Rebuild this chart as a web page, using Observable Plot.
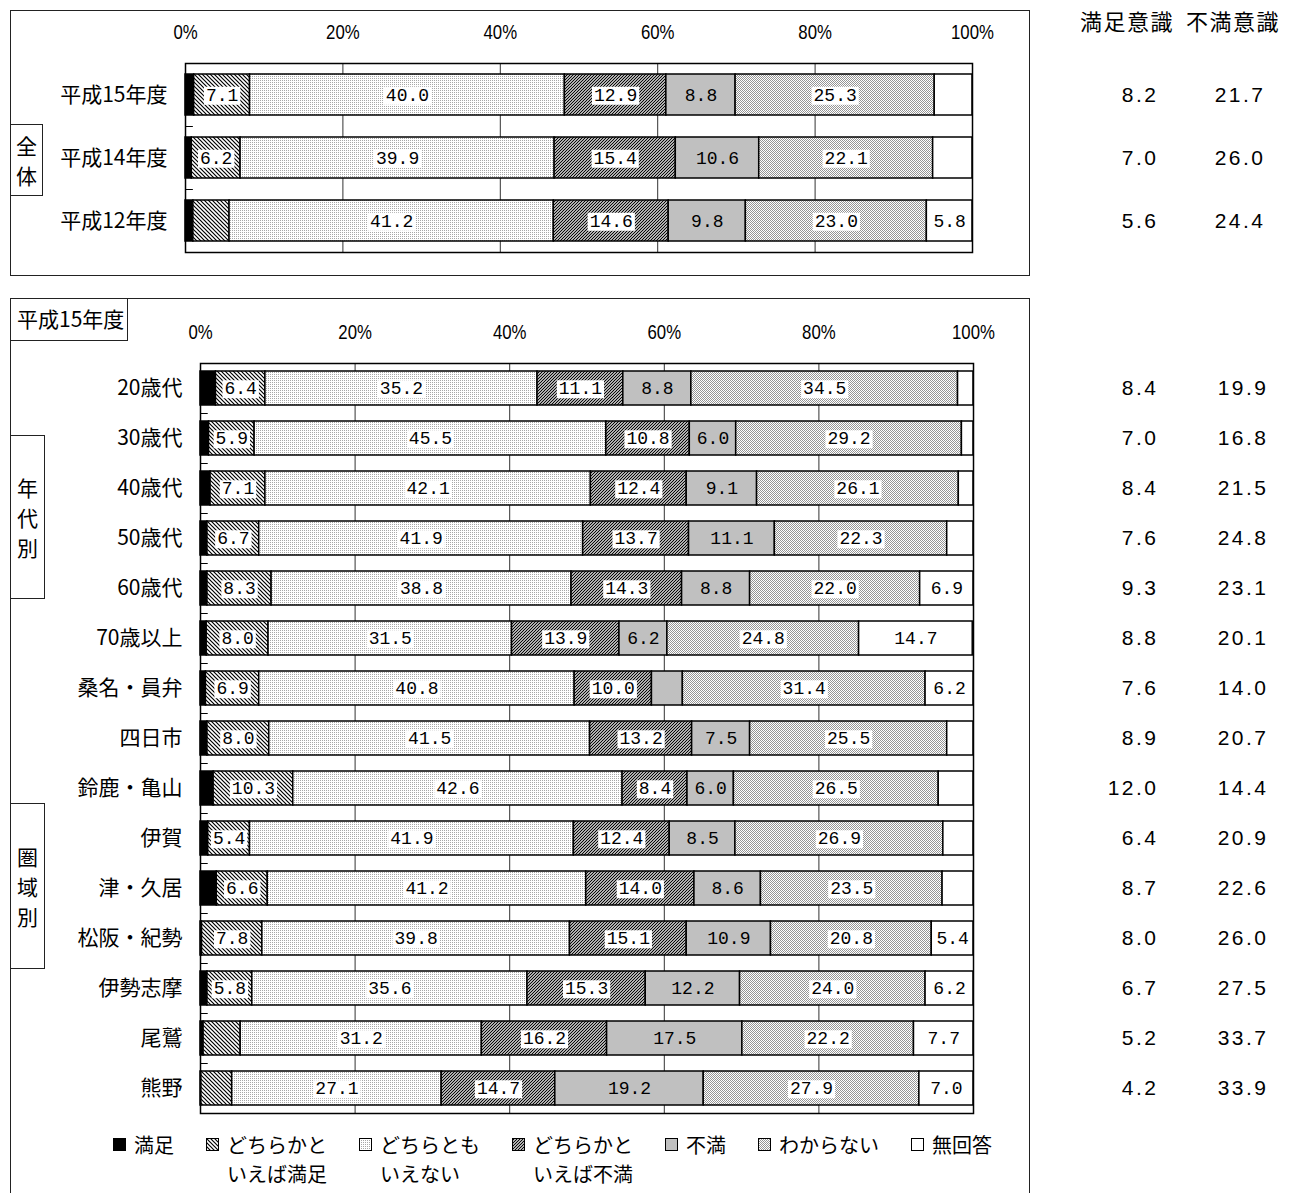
<!DOCTYPE html>
<html>
<head>
<meta charset="utf-8">
<script src="https://cdn.jsdelivr.net/npm/d3@7"></script>
<script src="https://cdn.jsdelivr.net/npm/@observablehq/plot@0.6"></script>
<style>
  body { margin: 0; background: #fff; }
  #page { position: relative; width: 1295px; height: 1193px; overflow: hidden;
          font-family: "Noto Sans CJK JP", "Noto Sans", sans-serif; color: #000; }
  .plot { position: absolute; left: 0; }
  .box { position: absolute; border: 1.5px solid #222; box-sizing: border-box; z-index: 5; }
  .vlabel { display: flex; flex-direction: column; align-items: center; justify-content: center;
            font-size: 21px; line-height: 30px; background: #fff; }
  .hdr { position: absolute; font-size: 22px; letter-spacing: 1.5px; z-index: 6; }
  #legend { position: absolute; left: 113px; top: 1130px; display: flex; gap: 32px; z-index: 6;
            font-size: 20px; line-height: 29px; }
  .item { display: flex; align-items: flex-start; }
  .sw { width: 13px; height: 13px; margin-top: 8px; margin-right: 8px; flex: none; }
</style>
</head>
<body>
<svg width="0" height="0" style="position:absolute">
  <defs>
    <pattern id="pSat2" width="4" height="4" patternUnits="userSpaceOnUse">
      <rect width="4" height="4" fill="#fff"/>
      <path d="M-1,-1 L5,5 M-1,3 L1,5 M3,-1 L5,1" stroke="#000" stroke-width="1.2"/>
    </pattern>
    <pattern id="pDis2" width="3" height="3" patternUnits="userSpaceOnUse">
      <rect width="3" height="3" fill="#fff"/>
      <path d="M-1,4 L4,-1 M-1,1 L1,-1 M2,4 L4,2" stroke="#000" stroke-width="1.2"/>
    </pattern>
    <pattern id="pNeutral" width="2" height="2" patternUnits="userSpaceOnUse">
      <rect width="2" height="2" fill="#fff"/>
      <rect width="1" height="1" fill="#a8a8a8" shape-rendering="crispEdges"/>
    </pattern>
    <pattern id="pUnknown" width="2" height="2" patternUnits="userSpaceOnUse">
      <rect width="2" height="2" fill="#fff"/>
      <rect width="1" height="1" fill="#959595" shape-rendering="crispEdges"/>
      <rect x="1" y="1" width="1" height="1" fill="#959595" shape-rendering="crispEdges"/>
    </pattern>
  </defs>
</svg>
<div id="page"></div>
<script>
// ---------------- data ----------------
const responses = ["満足", "どちらかといえば満足", "どちらともいえない", "どちらかといえば不満", "不満", "わからない", "無回答"];
const legendLabels = [["満足"], ["どちらかと", "いえば満足"], ["どちらとも", "いえない"], ["どちらかと", "いえば不満"], ["不満"], ["わからない"], ["無回答"]];
const xTicks = [0, 20, 40, 60, 80, 100];
const gridTicks = [20, 40, 60, 80];
const sideHeaders = ["満足意識", "不満意識"];

// 全体
const categoriesTop = ["平成15年度", "平成14年度", "平成12年度"];
const satisfiedTop          = [1.1, 0.8, 1.0];
const ratherSatisfiedTop    = [7.1, 6.2, 4.6];
const neutralTop            = [40.0, 39.9, 41.2];
const ratherDissatisfiedTop = [12.9, 15.4, 14.6];
const dissatisfiedTop       = [8.8, 10.6, 9.8];
const unknownTop            = [25.3, 22.1, 23.0];
const noAnswerTop           = [4.8, 5.0, 5.8];
const satSumTop             = [8.2, 7.0, 5.6];
const dissatSumTop          = [21.7, 26.0, 24.4];

// 平成15年度 年代別・圏域別
const categoriesBottom = ["20歳代", "30歳代", "40歳代", "50歳代", "60歳代", "70歳以上", "桑名・員弁", "四日市", "鈴鹿・亀山", "伊賀", "津・久居", "松阪・紀勢", "伊勢志摩", "尾鷲", "熊野"];
const satisfiedBottom          = [2.0, 1.1, 1.3, 0.9, 0.9, 0.8, 0.7, 0.9, 1.7, 1.0, 2.1, 0.2, 0.9, 0.4, 0.1];
const ratherSatisfiedBottom    = [6.4, 5.9, 7.1, 6.7, 8.3, 8.0, 6.9, 8.0, 10.3, 5.4, 6.6, 7.8, 5.8, 4.8, 4.0];
const neutralBottom            = [35.2, 45.5, 42.1, 41.9, 38.8, 31.5, 40.8, 41.5, 42.6, 41.9, 41.2, 39.8, 35.6, 31.2, 27.1];
const ratherDissatisfiedBottom = [11.1, 10.8, 12.4, 13.7, 14.3, 13.9, 10.0, 13.2, 8.4, 12.4, 14.0, 15.1, 15.3, 16.2, 14.7];
const dissatisfiedBottom       = [8.8, 6.0, 9.1, 11.1, 8.8, 6.2, 4.0, 7.5, 6.0, 8.5, 8.6, 10.9, 12.2, 17.5, 19.2];
const unknownBottom            = [34.5, 29.2, 26.1, 22.3, 22.0, 24.8, 31.4, 25.5, 26.5, 26.9, 23.5, 20.8, 24.0, 22.2, 27.9];
const noAnswerBottom           = [2.0, 1.5, 1.9, 3.4, 6.9, 14.7, 6.2, 3.4, 4.5, 3.9, 4.0, 5.4, 6.2, 7.7, 7.0];
const satSumBottom             = [8.4, 7.0, 8.4, 7.6, 9.3, 8.8, 7.6, 8.9, 12.0, 6.4, 8.7, 8.0, 6.7, 5.2, 4.2];
const dissatSumBottom          = [19.9, 16.8, 21.5, 24.8, 23.1, 20.1, 14.0, 20.7, 14.4, 20.9, 22.6, 26.0, 27.5, 33.7, 33.9];

// ---------------- styles ----------------
const fills = ["#000", "url(#pSat2)", "url(#pNeutral)", "url(#pDis2)", "#c0c0c0", "url(#pUnknown)", "#fff"];
const boxedIdx = new Set([1, 2, 3, 5]);
const plainIdx = new Set([4, 6]);
const MIN_LABEL = 5.3;

function rowsFor(cats, series) {
  const rows = [];
  cats.forEach((cat, i) => series.forEach((s, k) => rows.push({cat, k, response: responses[k], value: s[i]})));
  return rows;
}

function panel({cats, series, sat, dissat, height, mt, mb, ml, mr, pin, pout, step, satDx, disDx}) {
  const rows = rowsFor(cats, series);
  const lbl = set => d => (set.has(d.k) && d.value >= MIN_LABEL) ? d.value.toFixed(1) : null;
  const mono = "Liberation Mono, DejaVu Sans Mono, monospace";
  return Plot.plot({
    width: 1295, height,
    marginTop: mt, marginBottom: mb, marginLeft: ml, marginRight: mr,
    style: {background: "transparent", fontFamily: "'Noto Sans CJK JP', 'Noto Sans', sans-serif", fontSize: "21px", color: "#000", overflow: "visible"},
    x: {domain: [0, 100], axis: "top", ticks: xTicks, tickFormat: d => d + "%", tickSize: 0, tickPadding: 25, label: null},
    y: {domain: cats, paddingInner: pin, paddingOuter: pout, tickSize: 0, tickPadding: 18, label: null},
    color: {type: "identity"},
    marks: [
      Plot.ruleX(gridTicks, {stroke: "#333", strokeWidth: 1}),
      Plot.ruleY(cats.slice(1), {y: d => d, x1: 0, x2: 1, dy: -step / 2, stroke: "#000", strokeWidth: 1}),
      Plot.barX(rows, Plot.stackX({x: "value", y: "cat", z: "response", fill: d => fills[d.k], stroke: "#000", strokeWidth: 1.5})),
      Plot.text(rows, Plot.stackX({x: "value", y: "cat", z: "response", text: lbl(boxedIdx), fontFamily: mono, fontSize: 18, ariaDescription: "boxed-labels"})),
      Plot.text(rows, Plot.stackX({x: "value", y: "cat", z: "response", text: lbl(plainIdx), fontFamily: mono, fontSize: 18, ariaDescription: "plain-labels"})),
      Plot.frame({stroke: "#000", strokeWidth: 1.5}),
      Plot.text(cats, {x: () => 100, y: d => d, text: (d, i) => sat[i].toFixed(1), dx: satDx, textAnchor: "end", fontFamily: "Liberation Sans, Arial, sans-serif", fontSize: 21, ariaDescription: "side-values"}),
      Plot.text(cats, {x: () => 100, y: d => d, text: (d, i) => dissat[i].toFixed(1), dx: disDx, textAnchor: "end", fontFamily: "Liberation Sans, Arial, sans-serif", fontSize: 21, ariaDescription: "side-values"})
    ]
  });
}

function finish(svg) {
  const s = d3.select(svg);
  s.selectAll('[aria-label^="x-axis"] text').each(function () {
    const t = this.getAttribute("transform") || "";
    this.setAttribute("transform", (t + " scale(0.84,1)").trim());
  })
    .style("font-family", "'Liberation Sans Narrow', 'Arial Narrow', 'Liberation Sans', sans-serif")
    .style("font-size", "20px");
  s.selectAll('g[aria-description="boxed-labels"] text').each(function () {
    const b = this.getBBox();
    const r = document.createElementNS("http://www.w3.org/2000/svg", "rect");
    const t = this.getAttribute("transform");
    if (t) r.setAttribute("transform", t);
    r.setAttribute("x", b.x - 2); r.setAttribute("y", b.y + 1);
    r.setAttribute("width", b.width + 4); r.setAttribute("height", Math.max(0, b.height - 2));
    r.setAttribute("fill", "#fff");
    this.parentNode.insertBefore(r, this);
  });
  s.selectAll('g[aria-description="side-values"] text').style("letter-spacing", "2.5px");
}

const page = document.getElementById("page");

// ---------------- panels ----------------
const topSvg = panel({
  cats: categoriesTop,
  series: [satisfiedTop, ratherSatisfiedTop, neutralTop, ratherDissatisfiedTop, dissatisfiedTop, unknownTop, noAnswerTop],
  sat: satSumTop, dissat: dissatSumTop,
  height: 275, mt: 63, mb: 23, ml: 185, mr: 323, pin: 0.35, pout: 0.175, step: 63, satDx: 186, disDx: 293
});
topSvg.classList.add("plot");
topSvg.style.top = "0px";
page.appendChild(topSvg);
finish(topSvg);

const bottomSvg = panel({
  cats: categoriesBottom,
  series: [satisfiedBottom, ratherSatisfiedBottom, neutralBottom, ratherDissatisfiedBottom, dissatisfiedBottom, unknownBottom, noAnswerBottom],
  sat: satSumBottom, dissat: dissatSumBottom,
  height: 903, mt: 73, mb: 80, ml: 200, mr: 322, pin: 0.32, pout: 0.16, step: 50, satDx: 185, disDx: 295
});
bottomSvg.classList.add("plot");
bottomSvg.style.top = "290px";
page.appendChild(bottomSvg);
finish(bottomSvg);

// ---------------- frames & group labels ----------------
function box(l, t, w, h, html, cls) {
  const d = document.createElement("div");
  d.className = "box" + (cls ? " " + cls : "");
  Object.assign(d.style, {left: l + "px", top: t + "px", width: w + "px", height: h + "px"});
  if (html) d.innerHTML = html;
  page.appendChild(d);
  return d;
}
box(10, 10, 1020, 266);
box(10, 298, 1020, 920);
const yrBox = box(10, 298, 118, 43, "平成15年度");
Object.assign(yrBox.style, {background: "#fff", fontSize: "21px", lineHeight: "38px", paddingLeft: "6px"});
box(10, 124, 33, 72, "全<br>体", "vlabel");
box(10, 435, 35, 164, "年<br>代<br>別", "vlabel");
box(10, 803, 35, 166, "圏<br>域<br>別", "vlabel");

// side headers
[[1080, sideHeaders[0]], [1186, sideHeaders[1]]].forEach(([l, t]) => {
  const h = document.createElement("div");
  h.className = "hdr";
  h.style.left = l + "px"; h.style.top = "4px";
  h.textContent = t;
  page.appendChild(h);
});

// ---------------- legend ----------------
const legend = document.createElement("div");
legend.id = "legend";
responses.forEach((r, k) => {
  const it = document.createElement("div");
  it.className = "item";
  const sw = document.createElementNS("http://www.w3.org/2000/svg", "svg");
  sw.setAttribute("class", "sw");
  sw.setAttribute("viewBox", "0 0 13 13");
  const rc = document.createElementNS("http://www.w3.org/2000/svg", "rect");
  rc.setAttribute("x", 0.5); rc.setAttribute("y", 0.5); rc.setAttribute("width", 12); rc.setAttribute("height", 12);
  rc.setAttribute("fill", fills[k]); rc.setAttribute("stroke", "#000"); rc.setAttribute("stroke-width", 1);
  sw.appendChild(rc);
  it.appendChild(sw);
  const tx = document.createElement("div");
  tx.innerHTML = legendLabels[k].join("<br>");
  it.appendChild(tx);
  legend.appendChild(it);
});
page.appendChild(legend);
</script>
</body>
</html>
